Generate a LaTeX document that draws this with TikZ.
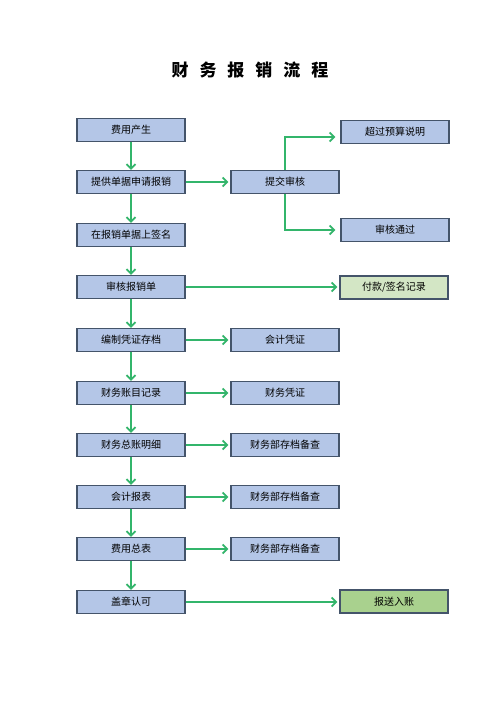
\documentclass[tikz,border=0pt]{standalone}
\usepackage{fontspec}
\setmainfont{Noto Sans CJK SC}
\usetikzlibrary{arrows.meta,calc}
\definecolor{boxfill}{HTML}{B4C6E7}
\definecolor{boxline}{HTML}{44546A}
\definecolor{grnA}{HTML}{D3E6C5}
\definecolor{grnB}{HTML}{A9D18E}
\definecolor{arr}{HTML}{33B56B}
\tikzset{
  pbox/.style={draw=boxline, line width=1.3pt, fill=boxfill, minimum width=108pt, minimum height=23pt, inner sep=0pt, font=\fontsize{10pt}{11pt}\selectfont},
  flow/.style={draw=arr, line width=2pt, -{Straight Barb[length=4.5pt,width=9pt,line width=1.8pt]}},
}
\begin{document}
\begin{tikzpicture}[x=1pt,y=-1pt]
\useasboundingbox[fill=white] (0,0) rectangle (500,707);
\node (title) at (250,70) {\fontsize{17pt}{18pt}\selectfont\bfseries 财\hspace{11pt}务\hspace{11pt}报\hspace{11pt}销\hspace{11pt}流\hspace{11pt}程};
% left column
\node[pbox] (a1) at (131,130) {费用产生};
\node[pbox] (a2) at (131,182) {提供单据申请报销};
\node[pbox] (a3) at (131,235) {在报销单据上签名};
\node[pbox] (a4) at (131,287) {审核报销单};
\node[pbox] (a5) at (131,340) {编制凭证存档};
\node[pbox] (a6) at (131,393) {财务账目记录};
\node[pbox] (a7) at (131,445) {财务总账明细};
\node[pbox] (a8) at (131,497) {会计报表};
\node[pbox] (a9) at (131,549) {费用总表};
\node[pbox] (a10) at (131,602) {盖章认可};
% middle column
\node[pbox] (m2) at (285,182) {提交审核};
\node[pbox] (m5) at (285,340) {会计凭证};
\node[pbox] (m6) at (285,393) {财务凭证};
\node[pbox] (m7) at (285,445) {财务部存档备查};
\node[pbox] (m8) at (285,497) {财务部存档备查};
\node[pbox] (m9) at (285,549) {财务部存档备查};
% right column
\node[pbox] (r1) at (395,132) {超过预算说明};
\node[pbox] (r2) at (395,230) {审核通过};
\node[pbox, fill=grnA] (r4) at (394,287.5) {付款/签名记录};
\node[pbox, fill=grnB] (r10) at (394,601.5) {报送入账};
% vertical flow
\foreach \i/\j in {a1/a2,a2/a3,a3/a4,a4/a5,a5/a6,a6/a7,a7/a8,a8/a9,a9/a10}
  \draw[flow] (\i) -- (\j);
% horizontal flow
\foreach \i/\j in {a2/m2,a5/m5,a6/m6,a7/m7,a8/m8,a9/m9,a4/r4,a10/r10}
  \draw[flow, shorten >=2pt] (\i.east) -- (\i.east -| \j.west);
\coordinate (up) at ($(r1.west)+(0,5)$);
\draw[flow, shorten >=5pt] (m2.north) |- (up);
\draw[flow, shorten >=5pt] (m2.south) |- (r2.west);
\end{tikzpicture}
\end{document}
